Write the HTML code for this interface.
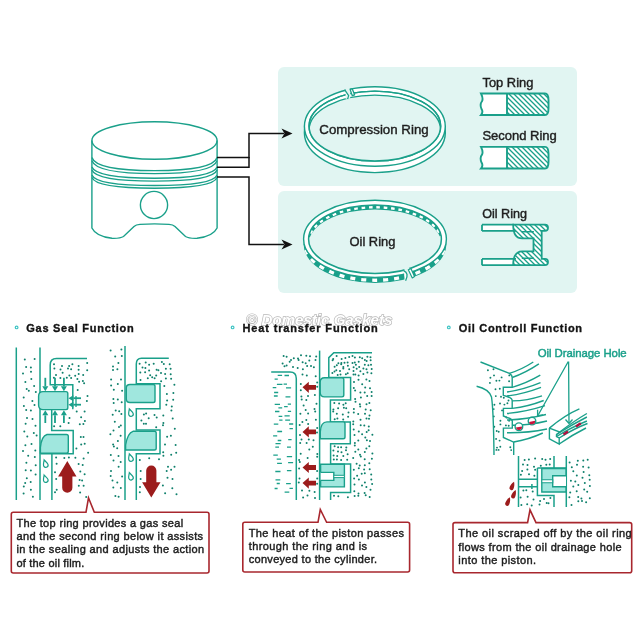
<!DOCTYPE html><html><head><meta charset="utf-8"><style>
html,body{margin:0;padding:0;background:#fff;width:640px;height:640px;overflow:hidden}
svg{display:block;will-change:transform}
text{font-family:"Liberation Sans",sans-serif}
.w{stroke:#1e1e1e;stroke-width:0.42px}
.wt{stroke:#1aa08a;stroke-width:0.45px}
.wb{stroke:#141414;stroke-width:0.35px}
</style></head><body>
<svg width="640" height="640" viewBox="0 0 640 640">
<rect x="278" y="67" width="299" height="119" rx="6" fill="#e1f5f2"/>
<rect x="278" y="191" width="299" height="102" rx="6" fill="#e1f5f2"/>
<g fill="none" stroke="#1aa08a" stroke-width="1.4">
<ellipse cx="154.5" cy="140.5" rx="62.6" ry="18.8"/>
<path d="M91.9 140.5 V228 Q96 236.5 112 238.3 Q120 238.6 123.5 236.5 L134 226.5 Q136 224.6 140 224.4 Q154.5 223.4 169 224.4 Q173 224.6 175 226.5 L185.5 236.5 Q189 238.6 197 238.3 Q213 236.5 217.1 228 V140.5"/>
<circle cx="154" cy="205" r="13.6"/>
<path d="M91.9 157.5 Q96 170.6 154.5 170.6 Q213 170.6 217.1 157.5"/>
<path d="M91.9 160.6 Q96 173.6 154.5 173.6 Q213 173.6 217.1 160.6"/>
<path d="M91.9 167 Q96 178.2 154.5 178.2 Q213 178.2 217.1 167"/>
<path d="M91.9 170 Q96 181.1 154.5 181.1 Q213 181.1 217.1 170"/>
<path d="M91.9 175 Q96 185.5 154.5 185.5 Q213 185.5 217.1 175"/>
<path d="M91.9 177.5 Q96 188.2 154.5 188.2 Q213 188.2 217.1 177.5"/>
</g>
<g fill="none" stroke="#111" stroke-width="1.5">
<path d="M217 157.6 H249 V133.6 H284"/>
<path d="M217 167.2 H249 V157"/>
<path d="M217 177 H249 V244.5 H284"/>
</g>
<path d="M292.5 133.6 L281.5 128.6 L284.5 133.6 L281.5 138.6 Z" fill="#111"/>
<path d="M292.5 244.5 L281.5 239.5 L284.5 244.5 L281.5 249.5 Z" fill="#111"/>
<defs><clipPath id="cCi"><ellipse cx="374.85" cy="126.05" rx="65.8" ry="34.95"/></clipPath></defs>
<g stroke="#1aa08a" stroke-width="1.45">
<ellipse cx="374.85" cy="132.85" rx="70.45" ry="39.75" fill="#fff"/>
<ellipse cx="374.85" cy="126.45" rx="70.45" ry="39.75" fill="#fff"/>
<ellipse cx="374.85" cy="126.05" rx="65.8" ry="34.95" fill="#fff"/>
<ellipse cx="374.85" cy="130.05" rx="65.8" ry="34.95" fill="#e1f5f2" clip-path="url(#cCi)"/>
<ellipse cx="374.85" cy="126.05" rx="65.8" ry="34.95" fill="none"/>
</g>
<path d="M345.6 85 L350.2 85 L350.2 98.8 L345.6 98.8 Z" fill="#e1f5f2"/>
<g fill="#fff" stroke="#1aa08a" stroke-width="1.3" stroke-linejoin="round">
<path d="M344.6 89.6 L348.6 95.6 L347.6 99.2"/>
<path d="M350.1 89.2 L352.3 88.9 L354.6 94.8 L352.2 95.6 Z"/>
</g>
<text x="319.3" y="134" font-size="13.3" class="w" fill="#1e1e1e">Compression Ring</text>
<defs>
<pattern id="hat" patternUnits="userSpaceOnUse" width="5" height="5">
<rect width="5" height="5" fill="#fff"/>
<path d="M-1 -1 L6 6 M-1 4 L1 6 M4 -1 L6 1" stroke="#1aa08a" stroke-width="1.3"/>
</pattern>
<clipPath id="cEi"><ellipse cx="375" cy="238.4" rx="66.2" ry="34.4"/></clipPath>
<clipPath id="cTop"><rect x="290" y="190" width="170" height="36"/></clipPath>
<clipPath id="cBot"><rect x="290" y="250" width="170" height="60"/></clipPath>
</defs>
<path d="M481 93.5 H507 V115 H481 Q483.5 112 481.5 109 Q479.5 104 482 101 Q483.5 98 481 93.5Z" fill="#fff"/>
<path d="M481 146.9 H507 V168.5 H481 Q483.5 165.5 481.5 162.5 Q479.5 157.5 482 154.5 Q483.5 151.5 481 146.9Z" fill="#fff"/>
<path d="M507 93.5 H545 Q548.5 93.5 548.5 100.25 V108.25 Q548.5 115 545 115 H507 Z" fill="url(#hat)"/>
<path d="M481 93.5 H545 Q548.5 93.5 548.5 100.25 V108.25 Q548.5 115 545 115 H481 Q483.5 112 481.5 109 Q479.5 104.25 482 101.25 Q483.5 98.5 481 93.5 Z" fill="none" stroke="#1aa08a" stroke-width="1.9"/>
<path d="M481.5 94.5 H507 V114 H481.5" fill="#fff" opacity="0"/>
<path d="M507 93.5 V115" stroke="#1aa08a" stroke-width="1.9"/>
<path d="M507 146.9 H545 Q548.5 146.9 548.5 153.7 V161.7 Q548.5 168.5 545 168.5 H507 Z" fill="url(#hat)"/>
<path d="M481 146.9 H545 Q548.5 146.9 548.5 153.7 V161.7 Q548.5 168.5 545 168.5 H481 Q483.5 165.5 481.5 162.5 Q479.5 157.7 482 154.7 Q483.5 151.9 481 146.9 Z" fill="none" stroke="#1aa08a" stroke-width="1.9"/>
<path d="M481.5 147.9 H507 V167.5 H481.5" fill="#fff" opacity="0"/>
<path d="M507 146.9 V168.5" stroke="#1aa08a" stroke-width="1.9"/>
<text x="482.5" y="87.2" font-size="12.9" class="w" fill="#1e1e1e">Top Ring</text>
<text x="482.4" y="140.4" font-size="13" class="w" fill="#1e1e1e">Second Ring</text>
<rect x="482" y="224.7" width="32" height="6.3" fill="#fff"/>
<rect x="482" y="258.9" width="32" height="6.3" fill="#fff"/>
<path d="M513.2 224.7 H545 Q548 224.7 548 227.8 Q548 230.9 545 230.9 H541.7 V258.9 H545 Q548 258.9 548 262 Q548 265.2 545 265.2 H513.2 C513.2 256 516 251.3 522.2 251.3 H533.5 V238.4 H522.2 C516 238.4 513.2 234 513.2 224.7 Z" fill="url(#hat)" stroke="#1aa08a" stroke-width="1.8"/>
<path d="M482 224.7 H514 M482 230.9 H516 M482 258.9 H516 M482 265.2 H514 M482 224.7 V230.9 M482 258.9 V265.2" stroke="#1aa08a" stroke-width="1.8" fill="none"/>
<path d="M521.8 231.8 H533.9 M521.8 258.2 H533.9" stroke="#1aa08a" stroke-width="1.5" fill="none"/>
<text x="482.2" y="217.7" font-size="12.6" class="w" fill="#1e1e1e">Oil Ring</text>
<defs><clipPath id="cEo7"><ellipse cx="375" cy="244.4" rx="71.4" ry="38.6"/></clipPath>
<clipPath id="cEi2"><ellipse cx="375" cy="239.25" rx="66.4" ry="34.25"/></clipPath></defs>
<ellipse cx="375" cy="244.4" rx="71.4" ry="38.6" fill="#1aa08a"/>
<ellipse cx="375" cy="241.65" rx="71.4" ry="38.6" fill="none" stroke="#fff" stroke-width="3.3" stroke-dasharray="5 6" stroke-dashoffset="2" clip-path="url(#cEo7)"/>
<ellipse cx="375" cy="238.9" rx="71.4" ry="38.6" fill="#fff" stroke="#1aa08a" stroke-width="1.4"/>
<ellipse cx="375" cy="239.25" rx="66.4" ry="34.25" fill="#1aa08a"/>
<ellipse cx="375" cy="241.5" rx="66.4" ry="34.25" fill="none" stroke="#fff" stroke-width="2.4" stroke-dasharray="3.6 3.8" clip-path="url(#cEi2)"/>
<ellipse cx="375" cy="243.75" rx="66.4" ry="34.25" fill="#e1f5f2" clip-path="url(#cEi2)"/>
<ellipse cx="375" cy="239.25" rx="66.4" ry="34.25" fill="none" stroke="#1aa08a" stroke-width="1.5"/>
<path d="M404.4 266 L408.3 266 L413.4 277.8 L413.4 290 L404.4 290 Z" fill="#e1f5f2"/>
<path d="M403.6 270.6 Q409.4 273.2 405.6 280.8" fill="#fff" stroke="#1aa08a" stroke-width="1.3"/>
<path d="M408.3 269.7 L410.9 268.6 L414.5 276.4 L412.3 277.9 Z" fill="#fff" stroke="#1aa08a" stroke-width="1.2" stroke-linejoin="round"/>
<text x="349.5" y="246" font-size="12.9" class="w" fill="#1e1e1e">Oil Ring</text>
<text x="246.3" y="324.6" font-size="14.2" font-weight="bold" font-style="italic" fill="#fff" stroke="#b8b8b8" stroke-width="1.3" paint-order="stroke" textLength="146" lengthAdjust="spacingAndGlyphs">© Domestic Gaskets</text>
<circle cx="16.6" cy="327.4" r="1.35" fill="#fff" stroke="#40c4c4" stroke-width="1.2"/>
<text x="26.3" y="331.6" font-size="11" font-weight="bold" class="wb" fill="#141414" textLength="107.5" lengthAdjust="spacing">Gas Seal Function</text>
<circle cx="232.6" cy="327.4" r="1.35" fill="#fff" stroke="#40c4c4" stroke-width="1.2"/>
<text x="242.5" y="331.8" font-size="11" font-weight="bold" class="wb" fill="#141414" textLength="135.3" lengthAdjust="spacing">Heat transfer Function</text>
<circle cx="448.8" cy="327.4" r="1.35" fill="#fff" stroke="#40c4c4" stroke-width="1.2"/>
<text x="458.8" y="331.8" font-size="11" font-weight="bold" class="wb" fill="#141414" textLength="123.3" lengthAdjust="spacing">Oil Controll Function</text>
<path d="M13.3 512.2 H86 L88.5 497.8 L94.3 512.2 H207 Q209 512.2 209 514.2 V571 Q209 573 207 573 H13.3 Q11.3 573 11.3 571 V514.2 Q11.3 512.2 13.3 512.2 Z" fill="#fff" stroke="#a8272e" stroke-width="1.6"/>
<path d="M244.8 522.3 H318 L320.3 509.5 L326.6 522.3 H407.6 Q409.6 522.3 409.6 524.3 V570 Q409.6 572 407.6 572 H244.8 Q242.8 572 242.8 570 V524.3 Q242.8 522.3 244.8 522.3 Z" fill="#fff" stroke="#a8272e" stroke-width="1.6"/>
<path d="M455 522.6 H527.6 L530 509.8 L536 522.6 H629.7 Q631.7 522.6 631.7 524.6 V570.8 Q631.7 572.8 629.7 572.8 H455 Q453 572.8 453 570.8 V524.6 Q453 522.6 455 522.6 Z" fill="#fff" stroke="#a8272e" stroke-width="1.6"/>
<text x="16.4" y="526.8" font-size="11" class="w" fill="#1a1a1a" textLength="166.7" lengthAdjust="spacing">The top ring provides a gas seal</text><text x="16.4" y="540.1" font-size="11" class="w" fill="#1a1a1a" textLength="186.7" lengthAdjust="spacing">and the second ring below it assists</text><text x="16.4" y="553.4" font-size="11" class="w" fill="#1a1a1a" textLength="187.7" lengthAdjust="spacing">in the sealing and adjusts the action</text><text x="16.4" y="566.7" font-size="11" class="w" fill="#1a1a1a" textLength="67.9" lengthAdjust="spacing">of the oil film.</text>
<text x="248.7" y="536.9" font-size="11" class="w" fill="#1a1a1a" textLength="155.2" lengthAdjust="spacing">The heat of the piston passes</text><text x="248.7" y="550.1" font-size="11" class="w" fill="#1a1a1a" textLength="118.4" lengthAdjust="spacing">through the ring and is</text><text x="248.7" y="563.3" font-size="11" class="w" fill="#1a1a1a" textLength="128.4" lengthAdjust="spacing">conveyed to the cylinder.</text>
<text x="458.3" y="537.2" font-size="11" class="w" fill="#1a1a1a" textLength="173.4" lengthAdjust="spacing">The oil scraped off by the oil ring</text><text x="458.3" y="550.9" font-size="11" class="w" fill="#1a1a1a" textLength="163.3" lengthAdjust="spacing">flows from the oil drainage hole</text><text x="458.3" y="564.2" font-size="11" class="w" fill="#1a1a1a" textLength="77.8" lengthAdjust="spacing">into the piston.</text>
<g fill="none" stroke="#1aa08a" stroke-width="1.5">
<path d="M16.3 347.5 V500"/>
<path d="M40 347.5 V500"/>
<path d="M87 358.5 H56.5 Q50.2 358.5 50.2 365 V384.8 H72.8 V409.2"/>
<path d="M51.7 409.2 V430.4 H73.2 V453.7 H40.4"/>
<path d="M51.9 453.7 V500"/>
</g>
<g fill="#0f806c"><circle cx="24.8" cy="359.4" r="1.0"/><circle cx="34.6" cy="359.0" r="1.0"/><circle cx="26.1" cy="366.9" r="1.0"/><circle cx="30.9" cy="367.6" r="1.0"/><circle cx="23.0" cy="373.6" r="1.0"/><circle cx="31.0" cy="371.8" r="1.0"/><circle cx="25.4" cy="381.9" r="1.0"/><circle cx="31.3" cy="378.9" r="1.0"/><circle cx="26.7" cy="388.9" r="1.0"/><circle cx="34.1" cy="386.1" r="1.0"/><circle cx="28.8" cy="390.7" r="1.0"/><circle cx="35.8" cy="391.9" r="1.0"/><circle cx="23.7" cy="397.4" r="1.0"/><circle cx="32.4" cy="401.0" r="1.0"/><circle cx="23.9" cy="406.1" r="1.0"/><circle cx="34.5" cy="405.1" r="1.0"/><circle cx="26.2" cy="409.9" r="1.0"/><circle cx="30.9" cy="410.6" r="1.0"/><circle cx="27.0" cy="418.1" r="1.0"/><circle cx="32.5" cy="418.9" r="1.0"/><circle cx="25.6" cy="423.8" r="1.0"/><circle cx="35.5" cy="425.8" r="1.0"/><circle cx="24.3" cy="431.6" r="1.0"/><circle cx="33.8" cy="433.1" r="1.0"/><circle cx="27.3" cy="436.5" r="1.0"/><circle cx="36.6" cy="435.6" r="1.0"/><circle cx="25.4" cy="445.2" r="1.0"/><circle cx="31.5" cy="443.9" r="1.0"/><circle cx="23.0" cy="451.1" r="1.0"/><circle cx="35.3" cy="450.6" r="1.0"/><circle cx="28.2" cy="455.7" r="1.0"/><circle cx="34.8" cy="457.1" r="1.0"/><circle cx="26.4" cy="462.8" r="1.0"/><circle cx="35.7" cy="465.3" r="1.0"/><circle cx="25.7" cy="470.2" r="1.0"/><circle cx="30.9" cy="470.4" r="1.0"/><circle cx="26.8" cy="478.2" r="1.0"/><circle cx="35.6" cy="474.6" r="1.0"/><circle cx="25.2" cy="482.9" r="1.0"/><circle cx="30.7" cy="481.9" r="1.0"/><circle cx="23.8" cy="486.5" r="1.0"/><circle cx="30.9" cy="489.8" r="1.0"/><circle cx="23.6" cy="493.5" r="1.0"/><circle cx="32.9" cy="496.7" r="1.0"/></g>
<g fill="#0f806c"><circle cx="54.0" cy="364.3" r="1.0"/><circle cx="62.0" cy="366.0" r="1.0"/><circle cx="69.1" cy="366.0" r="1.0"/><circle cx="72.4" cy="364.2" r="1.0"/><circle cx="78.6" cy="366.0" r="1.0"/><circle cx="87.2" cy="363.1" r="1.0"/><circle cx="54.4" cy="368.4" r="1.0"/><circle cx="60.5" cy="369.4" r="1.0"/><circle cx="68.0" cy="368.6" r="1.0"/><circle cx="71.1" cy="369.2" r="1.0"/><circle cx="78.6" cy="369.8" r="1.0"/><circle cx="87.2" cy="370.3" r="1.0"/><circle cx="56.0" cy="375.0" r="1.0"/><circle cx="62.6" cy="372.7" r="1.0"/><circle cx="69.4" cy="375.6" r="1.0"/><circle cx="75.2" cy="375.7" r="1.0"/><circle cx="78.7" cy="374.1" r="1.0"/><circle cx="83.2" cy="375.0" r="1.0"/><circle cx="53.9" cy="377.8" r="1.0"/><circle cx="60.4" cy="378.1" r="1.0"/><circle cx="66.8" cy="377.7" r="1.0"/><circle cx="71.1" cy="378.1" r="1.0"/><circle cx="77.4" cy="379.0" r="1.0"/><circle cx="82.9" cy="381.0" r="1.0"/></g>
<g fill="#0f806c"><circle cx="79.1" cy="381.8" r="1.0"/><circle cx="84.1" cy="383.2" r="1.0"/><circle cx="77.7" cy="390.1" r="1.0"/><circle cx="87.5" cy="396.0" r="1.0"/><circle cx="86.9" cy="401.0" r="1.0"/><circle cx="76.7" cy="411.5" r="1.0"/><circle cx="84.6" cy="411.6" r="1.0"/><circle cx="81.1" cy="417.3" r="1.0"/><circle cx="84.9" cy="421.0" r="1.0"/><circle cx="79.8" cy="424.2" r="1.0"/><circle cx="83.4" cy="424.1" r="1.0"/><circle cx="80.8" cy="437.0" r="1.0"/><circle cx="83.5" cy="437.1" r="1.0"/><circle cx="81.2" cy="444.4" r="1.0"/><circle cx="84.7" cy="443.7" r="1.0"/><circle cx="76.4" cy="448.5" r="1.0"/><circle cx="88.1" cy="452.8" r="1.0"/></g>
<g fill="#0f806c"><circle cx="69.5" cy="417.9" r="1.0"/><circle cx="54.1" cy="426.3" r="1.0"/><circle cx="60.3" cy="426.3" r="1.0"/><circle cx="68.6" cy="423.0" r="1.0"/></g>
<g fill="#0f806c"><circle cx="56.1" cy="457.4" r="1.0"/><circle cx="64.3" cy="458.0" r="1.0"/><circle cx="68.9" cy="457.6" r="1.0"/><circle cx="75.4" cy="457.8" r="1.0"/><circle cx="83.6" cy="458.4" r="1.0"/><circle cx="56.6" cy="463.8" r="1.0"/><circle cx="78.6" cy="464.1" r="1.0"/><circle cx="82.7" cy="465.1" r="1.0"/><circle cx="55.0" cy="472.2" r="1.0"/><circle cx="80.3" cy="471.4" r="1.0"/><circle cx="84.6" cy="474.2" r="1.0"/><circle cx="56.2" cy="479.1" r="1.0"/><circle cx="79.6" cy="480.1" r="1.0"/><circle cx="82.1" cy="480.4" r="1.0"/><circle cx="56.7" cy="489.8" r="1.0"/><circle cx="78.8" cy="485.7" r="1.0"/><circle cx="83.6" cy="485.8" r="1.0"/><circle cx="55.0" cy="492.3" r="1.0"/><circle cx="80.1" cy="492.6" r="1.0"/><circle cx="86.2" cy="496.9" r="1.0"/></g>
<path d="M43 391.6 H66 Q67.8 391.6 67.8 393.4 V407.8 Q67.8 409.6 66 409.6 H43 Q38.6 409.6 38.6 405 V396.2 Q38.6 391.6 43 391.6 Z" fill="#a0e7de" stroke="#1aa08a" stroke-width="1.4"/>
<path d="M47 434.5 H66.5 Q68.3 434.5 68.3 436.3 V451.3 Q68.3 453.1 66.5 453.1 H40.4 V447.5 Q41.5 436 47 434.5 Z" fill="#a0e7de" stroke="#1aa08a" stroke-width="1.4"/>
<line x1="45.3" y1="377.8" x2="45.30" y2="386.20" stroke="#1aa08a" stroke-width="1.8"/><path d="M45.3 391.2 L42.30 386.20 L48.30 386.20 Z" fill="#1aa08a"/>
<line x1="45.3" y1="423" x2="45.30" y2="415.30" stroke="#1aa08a" stroke-width="1.8"/><path d="M45.3 410.3 L48.30 415.30 L42.30 415.30 Z" fill="#1aa08a"/>
<line x1="55" y1="377.8" x2="55.00" y2="386.20" stroke="#1aa08a" stroke-width="1.8"/><path d="M55 391.2 L52.00 386.20 L58.00 386.20 Z" fill="#1aa08a"/>
<line x1="55" y1="423" x2="55.00" y2="415.30" stroke="#1aa08a" stroke-width="1.8"/><path d="M55 410.3 L58.00 415.30 L52.00 415.30 Z" fill="#1aa08a"/>
<line x1="63.9" y1="377.8" x2="63.90" y2="386.20" stroke="#1aa08a" stroke-width="1.8"/><path d="M63.9 391.2 L60.90 386.20 L66.90 386.20 Z" fill="#1aa08a"/>
<line x1="63.9" y1="423" x2="63.90" y2="415.30" stroke="#1aa08a" stroke-width="1.8"/><path d="M63.9 410.3 L66.90 415.30 L60.90 415.30 Z" fill="#1aa08a"/>
<line x1="81" y1="398.2" x2="73.40" y2="398.20" stroke="#1aa08a" stroke-width="1.8"/><path d="M68.4 398.2 L73.40 395.20 L73.40 401.20 Z" fill="#1aa08a"/>
<line x1="81" y1="404.7" x2="73.40" y2="404.70" stroke="#1aa08a" stroke-width="1.8"/><path d="M68.4 404.7 L73.40 401.70 L73.40 407.70 Z" fill="#1aa08a"/>
<line x1="76" y1="396" x2="76" y2="407" stroke="#1aa08a" stroke-width="1.3"/>
<path d="M0 -3.8 C0.8 -1.9 2.3 -0.3 2.3 1.5 A2.3 2.3 0 0 1 -2.3 1.5 C-2.3 -0.3 -0.8 -1.9 0 -3.8 Z" fill="none" stroke="#1aa08a" stroke-width="1.2" transform="translate(45.3,463.6) rotate(-18)"/>
<path d="M0 -3.8 C0.8 -1.9 2.3 -0.3 2.3 1.5 A2.3 2.3 0 0 1 -2.3 1.5 C-2.3 -0.3 -0.8 -1.9 0 -3.8 Z" fill="none" stroke="#1aa08a" stroke-width="1.2" transform="translate(45.3,478.7) rotate(-18)"/>
<path d="M67.3 461 L76.5 476.4 L72.39999999999999 476.4 L72.39999999999999 487.7 A5.1 5.1 0 0 1 62.199999999999996 487.7 L62.199999999999996 476.4 L58.099999999999994 476.4 Z" fill="#9c1c1c"/>
<g fill="none" stroke="#1aa08a" stroke-width="1.5">
<path d="M125 346 V500"/>
<path d="M168.8 358.2 H141.5 Q136.3 358.2 136.3 364 V383.8 H160 V408.8 H136.3 V430 H160 V453.8 H136.3 V500"/>
</g>
<g fill="#0f806c"><circle cx="110.6" cy="350.5" r="1.0"/><circle cx="121.4" cy="349.5" r="1.0"/><circle cx="115.2" cy="356.6" r="1.0"/><circle cx="121.8" cy="355.9" r="1.0"/><circle cx="113.0" cy="366.5" r="1.0"/><circle cx="118.4" cy="363.1" r="1.0"/><circle cx="113.0" cy="369.9" r="1.0"/><circle cx="117.4" cy="369.2" r="1.0"/><circle cx="111.1" cy="379.6" r="1.0"/><circle cx="121.0" cy="379.4" r="1.0"/><circle cx="111.1" cy="385.4" r="1.0"/><circle cx="117.8" cy="384.0" r="1.0"/><circle cx="113.8" cy="389.7" r="1.0"/><circle cx="122.1" cy="390.7" r="1.0"/><circle cx="113.4" cy="398.9" r="1.0"/><circle cx="117.8" cy="399.5" r="1.0"/><circle cx="113.7" cy="402.9" r="1.0"/><circle cx="121.7" cy="402.2" r="1.0"/><circle cx="115.7" cy="410.4" r="1.0"/><circle cx="119.2" cy="411.3" r="1.0"/><circle cx="112.7" cy="414.8" r="1.0"/><circle cx="121.4" cy="414.1" r="1.0"/><circle cx="114.8" cy="421.7" r="1.0"/><circle cx="120.8" cy="425.5" r="1.0"/><circle cx="113.5" cy="430.4" r="1.0"/><circle cx="119.0" cy="426.9" r="1.0"/><circle cx="110.4" cy="434.2" r="1.0"/><circle cx="120.6" cy="435.7" r="1.0"/><circle cx="113.1" cy="444.6" r="1.0"/><circle cx="117.9" cy="441.1" r="1.0"/><circle cx="113.9" cy="446.6" r="1.0"/><circle cx="117.2" cy="448.3" r="1.0"/><circle cx="110.8" cy="454.9" r="1.0"/><circle cx="118.5" cy="456.0" r="1.0"/><circle cx="113.5" cy="460.6" r="1.0"/><circle cx="120.7" cy="462.0" r="1.0"/><circle cx="111.0" cy="470.9" r="1.0"/><circle cx="118.6" cy="466.8" r="1.0"/><circle cx="110.7" cy="475.9" r="1.0"/><circle cx="122.1" cy="476.6" r="1.0"/><circle cx="112.5" cy="480.5" r="1.0"/><circle cx="117.3" cy="482.5" r="1.0"/><circle cx="113.3" cy="487.4" r="1.0"/><circle cx="120.8" cy="487.9" r="1.0"/><circle cx="115.4" cy="496.0" r="1.0"/><circle cx="118.6" cy="496.8" r="1.0"/></g>
<g fill="#0f806c"><circle cx="139.6" cy="363.8" r="1.0"/><circle cx="145.7" cy="362.5" r="1.0"/><circle cx="149.1" cy="364.8" r="1.0"/><circle cx="153.7" cy="363.8" r="1.0"/><circle cx="161.9" cy="362.1" r="1.0"/><circle cx="163.8" cy="364.1" r="1.0"/><circle cx="169.7" cy="364.2" r="1.0"/><circle cx="142.5" cy="367.5" r="1.0"/><circle cx="145.4" cy="368.0" r="1.0"/><circle cx="149.1" cy="370.5" r="1.0"/><circle cx="156.6" cy="369.8" r="1.0"/><circle cx="158.4" cy="370.3" r="1.0"/><circle cx="165.9" cy="368.7" r="1.0"/><circle cx="170.6" cy="368.7" r="1.0"/><circle cx="140.3" cy="372.5" r="1.0"/><circle cx="145.1" cy="372.2" r="1.0"/><circle cx="150.2" cy="375.2" r="1.0"/><circle cx="156.2" cy="375.6" r="1.0"/><circle cx="161.0" cy="373.1" r="1.0"/><circle cx="165.1" cy="373.9" r="1.0"/><circle cx="170.7" cy="374.2" r="1.0"/><circle cx="140.5" cy="380.0" r="1.0"/><circle cx="147.8" cy="378.2" r="1.0"/><circle cx="152.2" cy="377.3" r="1.0"/><circle cx="154.6" cy="378.3" r="1.0"/><circle cx="161.1" cy="381.2" r="1.0"/><circle cx="165.9" cy="378.6" r="1.0"/><circle cx="171.1" cy="378.7" r="1.0"/></g>
<g fill="#0f806c"><circle cx="164.3" cy="386.1" r="1.0"/><circle cx="174.4" cy="384.8" r="1.0"/><circle cx="166.9" cy="393.9" r="1.0"/><circle cx="173.4" cy="393.1" r="1.0"/><circle cx="167.1" cy="400.5" r="1.0"/><circle cx="173.2" cy="399.8" r="1.0"/><circle cx="166.3" cy="404.7" r="1.0"/><circle cx="171.8" cy="406.5" r="1.0"/><circle cx="163.3" cy="415.6" r="1.0"/><circle cx="171.4" cy="410.4" r="1.0"/><circle cx="163.4" cy="423.1" r="1.0"/><circle cx="172.7" cy="418.4" r="1.0"/><circle cx="163.0" cy="425.2" r="1.0"/><circle cx="174.8" cy="428.7" r="1.0"/><circle cx="167.1" cy="436.7" r="1.0"/><circle cx="170.9" cy="435.8" r="1.0"/><circle cx="165.0" cy="444.6" r="1.0"/><circle cx="175.6" cy="445.0" r="1.0"/><circle cx="163.2" cy="452.2" r="1.0"/><circle cx="176.2" cy="452.7" r="1.0"/><circle cx="163.4" cy="455.7" r="1.0"/><circle cx="171.2" cy="454.7" r="1.0"/><circle cx="168.0" cy="466.7" r="1.0"/><circle cx="174.5" cy="466.7" r="1.0"/><circle cx="166.7" cy="470.9" r="1.0"/><circle cx="171.1" cy="469.8" r="1.0"/><circle cx="167.5" cy="477.8" r="1.0"/><circle cx="172.5" cy="479.1" r="1.0"/><circle cx="162.9" cy="485.5" r="1.0"/><circle cx="172.3" cy="488.2" r="1.0"/><circle cx="165.1" cy="493.3" r="1.0"/><circle cx="176.5" cy="494.3" r="1.0"/></g>
<g fill="#0f806c"><circle cx="143.9" cy="414.4" r="1.0"/><circle cx="146.1" cy="413.4" r="1.0"/><circle cx="154.5" cy="415.1" r="1.0"/><circle cx="141.4" cy="420.4" r="1.0"/><circle cx="148.7" cy="418.2" r="1.0"/><circle cx="156.7" cy="417.6" r="1.0"/><circle cx="143.8" cy="423.7" r="1.0"/><circle cx="146.0" cy="423.8" r="1.0"/><circle cx="156.2" cy="427.3" r="1.0"/></g>
<g fill="#0f806c"><circle cx="139.8" cy="460.1" r="1.0"/><circle cx="149.2" cy="458.3" r="1.0"/><circle cx="159.0" cy="459.2" r="1.0"/><circle cx="140.7" cy="470.9" r="1.0"/><circle cx="140.6" cy="478.9" r="1.0"/><circle cx="140.0" cy="486.9" r="1.0"/><circle cx="139.8" cy="492.2" r="1.0"/></g>
<path d="M130 384.5 H153.2 Q155 384.5 155 386.3 V400.7 Q155 402.5 153.2 402.5 H130 Q126.3 402.5 126.3 399 V388 Q126.3 384.5 130 384.5 Z" fill="#a0e7de" stroke="#1aa08a" stroke-width="1.4"/>
<path d="M133 431.3 H154.4 Q156.2 431.3 156.2 433.1 V448.2 Q156.2 450 154.4 450 H125.6 V445 Q127.5 433 133 431.3 Z" fill="#a0e7de" stroke="#1aa08a" stroke-width="1.4"/>
<path d="M0 -3.8 C0.8 -1.9 2.3 -0.3 2.3 1.5 A2.3 2.3 0 0 1 -2.3 1.5 C-2.3 -0.3 -0.8 -1.9 0 -3.8 Z" fill="none" stroke="#1aa08a" stroke-width="1.2" transform="translate(130.5,412.6) rotate(-18)"/>
<path d="M0 -3.8 C0.8 -1.9 2.3 -0.3 2.3 1.5 A2.3 2.3 0 0 1 -2.3 1.5 C-2.3 -0.3 -0.8 -1.9 0 -3.8 Z" fill="none" stroke="#1aa08a" stroke-width="1.2" transform="translate(130.5,457.6) rotate(-18)"/>
<path d="M0 -3.8 C0.8 -1.9 2.3 -0.3 2.3 1.5 A2.3 2.3 0 0 1 -2.3 1.5 C-2.3 -0.3 -0.8 -1.9 0 -3.8 Z" fill="none" stroke="#1aa08a" stroke-width="1.2" transform="translate(130.5,476.3) rotate(-18)"/>
<path d="M151.3 497.6 L160.5 482.2 L156.4 482.2 L156.4 470.6 A5.1 5.1 0 0 0 146.20000000000002 470.6 L146.20000000000002 482.2 L142.10000000000002 482.2 Z" fill="#9c1c1c"/>
<g fill="none" stroke="#1aa08a" stroke-width="1.5">
<path d="M271.2 371.9 H290 Q296.3 371.9 296.3 378.5 V500"/>
<path d="M319.6 350.6 V500"/>
<path d="M372 352.8 H333.8 L328.8 357.6 V377.6 H350.6 V400 H330.4 V421.9 H350.3 V443.8 H330.6 V464 H350.6 V492.5 H330.6 V500"/>
</g>
<path d="M277.7 375.4 h4.4 M284.5 375.5 h4.5 M274.6 379.1 h3.2 M276.9 384.4 h5.5 M283.6 384.2 h3.4 M272.7 387.6 h3.6 M286.0 387.9 h5.1 M274.1 392.5 h4.1 M273.9 396.0 h3.8 M285.5 396.9 h4.9 M274.7 404.4 h5.3 M287.8 404.1 h3.2 M278.4 407.8 h3.8 M284.1 406.7 h3.6 M275.0 411.5 h4.4 M287.8 411.3 h3.3 M278.6 416.4 h3.7 M284.5 415.8 h5.2 M279.2 420.1 h3.3 M285.2 420.2 h4.9 M273.8 424.2 h4.5 M289.1 424.0 h4.1 M289.5 428.7 h3.4 M277.3 431.5 h4.8 M273.1 435.9 h4.1 M277.7 440.5 h3.6 M288.2 439.7 h3.4 M275.5 443.7 h5.1 M275.3 447.1 h3.7 M287.0 447.2 h3.9 M273.3 455.2 h4.5 M286.8 456.7 h5.3 M276.7 459.1 h4.2 M277.1 463.3 h4.8 M288.1 462.7 h5.0 M275.3 471.5 h5.2 M286.9 470.6 h4.5 M275.5 479.9 h4.8 M276.7 483.5 h3.1 M286.1 483.7 h4.7 M274.6 488.5 h3.0 M289.5 488.4 h3.4 M284.6 492.1 h4.7" stroke="#1aa08a" stroke-width="1.3" fill="none"/>
<g fill="#0f806c"><circle cx="283.6" cy="355.9" r="1.0"/><circle cx="286.6" cy="356.7" r="1.0"/><circle cx="293.8" cy="358.2" r="1.0"/><circle cx="298.0" cy="358.6" r="1.0"/><circle cx="301.0" cy="355.3" r="1.0"/><circle cx="306.3" cy="355.7" r="1.0"/><circle cx="310.0" cy="356.3" r="1.0"/><circle cx="316.2" cy="356.6" r="1.0"/><circle cx="282.6" cy="363.4" r="1.0"/><circle cx="289.7" cy="361.8" r="1.0"/><circle cx="291.0" cy="360.0" r="1.0"/><circle cx="298.6" cy="360.0" r="1.0"/><circle cx="302.6" cy="362.3" r="1.0"/><circle cx="305.7" cy="363.2" r="1.0"/><circle cx="309.3" cy="360.4" r="1.0"/><circle cx="315.5" cy="360.0" r="1.0"/><circle cx="284.5" cy="366.2" r="1.0"/><circle cx="286.6" cy="365.4" r="1.0"/><circle cx="293.0" cy="367.1" r="1.0"/><circle cx="297.7" cy="368.0" r="1.0"/><circle cx="302.9" cy="369.3" r="1.0"/><circle cx="307.1" cy="366.1" r="1.0"/><circle cx="311.0" cy="366.0" r="1.0"/><circle cx="313.9" cy="367.2" r="1.0"/></g>
<g fill="#0f806c"><circle cx="302.5" cy="374.5" r="1.0"/><circle cx="306.8" cy="375.4" r="1.0"/><circle cx="315.7" cy="376.3" r="1.0"/><circle cx="300.8" cy="383.9" r="1.0"/><circle cx="317.2" cy="382.6" r="1.0"/><circle cx="300.8" cy="390.3" r="1.0"/><circle cx="317.2" cy="386.8" r="1.0"/><circle cx="301.4" cy="396.4" r="1.0"/><circle cx="308.0" cy="396.0" r="1.0"/><circle cx="314.9" cy="395.1" r="1.0"/><circle cx="301.7" cy="399.6" r="1.0"/><circle cx="306.3" cy="399.9" r="1.0"/><circle cx="316.5" cy="403.8" r="1.0"/><circle cx="303.6" cy="405.6" r="1.0"/><circle cx="305.7" cy="409.9" r="1.0"/><circle cx="314.5" cy="409.0" r="1.0"/><circle cx="300.4" cy="413.8" r="1.0"/><circle cx="308.1" cy="413.6" r="1.0"/><circle cx="315.2" cy="411.5" r="1.0"/><circle cx="302.4" cy="422.0" r="1.0"/><circle cx="306.3" cy="420.0" r="1.0"/><circle cx="315.9" cy="419.8" r="1.0"/><circle cx="299.7" cy="424.9" r="1.0"/><circle cx="308.1" cy="424.1" r="1.0"/><circle cx="317.2" cy="428.1" r="1.0"/><circle cx="300.0" cy="434.9" r="1.0"/><circle cx="317.0" cy="432.5" r="1.0"/><circle cx="301.5" cy="439.6" r="1.0"/><circle cx="308.8" cy="439.5" r="1.0"/><circle cx="313.5" cy="440.2" r="1.0"/><circle cx="300.2" cy="443.0" r="1.0"/><circle cx="306.6" cy="443.1" r="1.0"/><circle cx="312.8" cy="446.7" r="1.0"/><circle cx="300.7" cy="453.8" r="1.0"/><circle cx="309.3" cy="449.5" r="1.0"/><circle cx="317.3" cy="454.0" r="1.0"/><circle cx="299.1" cy="460.1" r="1.0"/><circle cx="307.6" cy="457.9" r="1.0"/><circle cx="317.2" cy="456.8" r="1.0"/><circle cx="299.8" cy="462.1" r="1.0"/><circle cx="299.1" cy="468.5" r="1.0"/><circle cx="317.1" cy="471.1" r="1.0"/><circle cx="299.5" cy="478.6" r="1.0"/><circle cx="317.2" cy="478.4" r="1.0"/><circle cx="298.8" cy="482.4" r="1.0"/><circle cx="317.1" cy="483.8" r="1.0"/><circle cx="302.0" cy="490.5" r="1.0"/><circle cx="309.4" cy="490.8" r="1.0"/><circle cx="314.6" cy="492.0" r="1.0"/><circle cx="303.1" cy="497.6" r="1.0"/><circle cx="307.5" cy="495.5" r="1.0"/><circle cx="315.0" cy="497.9" r="1.0"/></g>
<g fill="#0f806c"><circle cx="333.2" cy="358.9" r="1.0"/><circle cx="336.6" cy="356.1" r="1.0"/><circle cx="341.6" cy="358.9" r="1.0"/><circle cx="345.4" cy="357.9" r="1.0"/><circle cx="349.2" cy="356.9" r="1.0"/><circle cx="352.5" cy="356.1" r="1.0"/><circle cx="354.9" cy="357.4" r="1.0"/><circle cx="359.8" cy="357.2" r="1.0"/><circle cx="362.2" cy="358.2" r="1.0"/><circle cx="367.4" cy="356.7" r="1.0"/><circle cx="370.5" cy="357.2" r="1.0"/><circle cx="332.6" cy="360.2" r="1.0"/><circle cx="338.4" cy="363.2" r="1.0"/><circle cx="341.4" cy="362.9" r="1.0"/><circle cx="344.5" cy="362.7" r="1.0"/><circle cx="347.6" cy="362.5" r="1.0"/><circle cx="352.5" cy="363.0" r="1.0"/><circle cx="354.8" cy="362.6" r="1.0"/><circle cx="358.7" cy="361.8" r="1.0"/><circle cx="364.9" cy="360.0" r="1.0"/><circle cx="366.6" cy="361.0" r="1.0"/><circle cx="370.6" cy="360.2" r="1.0"/><circle cx="334.6" cy="366.8" r="1.0"/><circle cx="336.8" cy="365.3" r="1.0"/><circle cx="341.2" cy="364.3" r="1.0"/><circle cx="343.3" cy="367.1" r="1.0"/><circle cx="347.9" cy="365.7" r="1.0"/><circle cx="353.6" cy="367.3" r="1.0"/><circle cx="355.9" cy="364.8" r="1.0"/><circle cx="359.2" cy="367.1" r="1.0"/><circle cx="364.8" cy="364.8" r="1.0"/><circle cx="368.4" cy="365.3" r="1.0"/><circle cx="371.0" cy="364.7" r="1.0"/><circle cx="334.5" cy="371.5" r="1.0"/><circle cx="336.3" cy="370.3" r="1.0"/><circle cx="340.0" cy="371.1" r="1.0"/><circle cx="343.3" cy="368.6" r="1.0"/><circle cx="349.2" cy="369.2" r="1.0"/><circle cx="353.5" cy="371.1" r="1.0"/><circle cx="356.7" cy="368.7" r="1.0"/><circle cx="360.4" cy="371.3" r="1.0"/><circle cx="363.4" cy="368.5" r="1.0"/><circle cx="366.5" cy="369.2" r="1.0"/><circle cx="371.7" cy="368.9" r="1.0"/><circle cx="332.4" cy="373.1" r="1.0"/><circle cx="337.7" cy="374.9" r="1.0"/><circle cx="340.5" cy="374.5" r="1.0"/><circle cx="345.9" cy="374.2" r="1.0"/><circle cx="347.7" cy="373.3" r="1.0"/><circle cx="353.5" cy="374.5" r="1.0"/><circle cx="355.3" cy="374.4" r="1.0"/><circle cx="358.6" cy="375.5" r="1.0"/><circle cx="363.4" cy="374.0" r="1.0"/><circle cx="367.4" cy="372.5" r="1.0"/><circle cx="371.4" cy="373.2" r="1.0"/></g>
<g fill="#0f806c"><circle cx="354.0" cy="382.1" r="1.0"/><circle cx="358.5" cy="379.8" r="1.0"/><circle cx="366.4" cy="379.6" r="1.0"/><circle cx="369.5" cy="381.0" r="1.0"/><circle cx="353.8" cy="388.1" r="1.0"/><circle cx="362.2" cy="384.2" r="1.0"/><circle cx="365.2" cy="387.4" r="1.0"/><circle cx="370.0" cy="388.2" r="1.0"/><circle cx="355.1" cy="390.4" r="1.0"/><circle cx="360.4" cy="392.5" r="1.0"/><circle cx="364.7" cy="392.6" r="1.0"/><circle cx="371.6" cy="391.9" r="1.0"/><circle cx="355.1" cy="398.9" r="1.0"/><circle cx="360.9" cy="397.5" r="1.0"/><circle cx="367.2" cy="396.0" r="1.0"/><circle cx="371.6" cy="395.9" r="1.0"/><circle cx="355.5" cy="401.8" r="1.0"/><circle cx="359.9" cy="404.2" r="1.0"/><circle cx="366.5" cy="404.2" r="1.0"/><circle cx="369.4" cy="402.9" r="1.0"/><circle cx="353.9" cy="408.9" r="1.0"/><circle cx="360.2" cy="406.4" r="1.0"/><circle cx="365.7" cy="409.5" r="1.0"/><circle cx="370.7" cy="410.2" r="1.0"/><circle cx="353.8" cy="412.5" r="1.0"/><circle cx="358.2" cy="414.0" r="1.0"/><circle cx="365.0" cy="413.8" r="1.0"/><circle cx="369.5" cy="415.4" r="1.0"/><circle cx="353.3" cy="421.4" r="1.0"/><circle cx="360.5" cy="419.8" r="1.0"/><circle cx="366.5" cy="418.4" r="1.0"/><circle cx="369.0" cy="418.8" r="1.0"/><circle cx="353.2" cy="424.3" r="1.0"/><circle cx="360.7" cy="425.2" r="1.0"/><circle cx="364.3" cy="425.5" r="1.0"/><circle cx="368.8" cy="426.6" r="1.0"/><circle cx="353.7" cy="429.6" r="1.0"/><circle cx="358.8" cy="431.5" r="1.0"/><circle cx="366.7" cy="432.0" r="1.0"/><circle cx="368.6" cy="430.3" r="1.0"/><circle cx="354.5" cy="435.0" r="1.0"/><circle cx="362.1" cy="434.2" r="1.0"/><circle cx="365.3" cy="437.4" r="1.0"/><circle cx="372.4" cy="434.7" r="1.0"/><circle cx="354.9" cy="442.9" r="1.0"/><circle cx="358.3" cy="440.6" r="1.0"/><circle cx="366.9" cy="440.2" r="1.0"/><circle cx="370.0" cy="440.9" r="1.0"/><circle cx="354.8" cy="445.4" r="1.0"/><circle cx="358.3" cy="449.5" r="1.0"/><circle cx="366.4" cy="448.4" r="1.0"/><circle cx="369.3" cy="446.2" r="1.0"/><circle cx="355.3" cy="451.7" r="1.0"/><circle cx="360.0" cy="454.8" r="1.0"/><circle cx="364.8" cy="452.1" r="1.0"/><circle cx="372.4" cy="453.4" r="1.0"/><circle cx="353.2" cy="458.0" r="1.0"/><circle cx="360.8" cy="456.5" r="1.0"/><circle cx="364.7" cy="459.3" r="1.0"/><circle cx="371.9" cy="458.8" r="1.0"/><circle cx="356.6" cy="463.8" r="1.0"/><circle cx="359.7" cy="465.5" r="1.0"/><circle cx="364.8" cy="465.2" r="1.0"/><circle cx="369.3" cy="463.3" r="1.0"/><circle cx="353.8" cy="469.7" r="1.0"/><circle cx="358.8" cy="468.2" r="1.0"/><circle cx="364.1" cy="469.4" r="1.0"/><circle cx="369.7" cy="469.3" r="1.0"/><circle cx="357.1" cy="475.8" r="1.0"/><circle cx="361.7" cy="473.7" r="1.0"/><circle cx="364.8" cy="473.2" r="1.0"/><circle cx="371.2" cy="474.4" r="1.0"/><circle cx="354.1" cy="478.5" r="1.0"/><circle cx="358.9" cy="479.5" r="1.0"/><circle cx="364.9" cy="482.5" r="1.0"/><circle cx="371.3" cy="479.6" r="1.0"/><circle cx="354.5" cy="484.6" r="1.0"/><circle cx="362.0" cy="485.5" r="1.0"/><circle cx="366.4" cy="487.1" r="1.0"/><circle cx="372.1" cy="484.0" r="1.0"/><circle cx="354.3" cy="491.2" r="1.0"/><circle cx="358.5" cy="493.4" r="1.0"/><circle cx="364.6" cy="492.9" r="1.0"/><circle cx="370.5" cy="489.7" r="1.0"/><circle cx="354.6" cy="496.1" r="1.0"/><circle cx="358.3" cy="495.7" r="1.0"/><circle cx="365.7" cy="495.2" r="1.0"/><circle cx="369.7" cy="496.9" r="1.0"/></g>
<g fill="#0f806c"><circle cx="334.3" cy="402.9" r="1.0"/><circle cx="339.1" cy="403.4" r="1.0"/><circle cx="343.4" cy="404.8" r="1.0"/><circle cx="345.7" cy="403.2" r="1.0"/><circle cx="333.4" cy="409.5" r="1.0"/><circle cx="338.1" cy="408.3" r="1.0"/><circle cx="343.9" cy="407.8" r="1.0"/><circle cx="346.2" cy="408.2" r="1.0"/><circle cx="333.2" cy="411.6" r="1.0"/><circle cx="336.8" cy="413.7" r="1.0"/><circle cx="342.8" cy="414.4" r="1.0"/><circle cx="348.5" cy="412.5" r="1.0"/><circle cx="334.7" cy="419.3" r="1.0"/><circle cx="337.4" cy="418.4" r="1.0"/><circle cx="343.2" cy="419.4" r="1.0"/><circle cx="348.1" cy="416.8" r="1.0"/></g>
<g fill="#0f806c"><circle cx="334.6" cy="446.2" r="1.0"/><circle cx="338.1" cy="447.2" r="1.0"/><circle cx="341.1" cy="447.2" r="1.0"/><circle cx="346.3" cy="447.6" r="1.0"/><circle cx="333.4" cy="450.6" r="1.0"/><circle cx="338.0" cy="451.6" r="1.0"/><circle cx="341.5" cy="452.2" r="1.0"/><circle cx="346.0" cy="450.3" r="1.0"/><circle cx="333.6" cy="455.6" r="1.0"/><circle cx="337.2" cy="456.1" r="1.0"/><circle cx="343.3" cy="456.0" r="1.0"/><circle cx="347.6" cy="454.2" r="1.0"/><circle cx="333.8" cy="459.5" r="1.0"/><circle cx="336.9" cy="459.6" r="1.0"/><circle cx="341.1" cy="459.9" r="1.0"/><circle cx="347.2" cy="459.8" r="1.0"/></g>
<g fill="#0f806c"><circle cx="334.0" cy="495.8" r="1.0"/><circle cx="338.3" cy="496.3" r="1.0"/><circle cx="347.9" cy="497.3" r="1.0"/></g>
<path d="M324.5 377.8 H342 Q343.8 377.8 343.8 379.6 V395.1 Q343.8 396.9 342 396.9 H324.5 Q320.2 396.9 320.2 392.6 V382.1 Q320.2 377.8 324.5 377.8 Z" fill="#a0e7de" stroke="#1aa08a" stroke-width="1.4"/>
<path d="M327 421.9 H343.2 Q345 421.9 345 423.7 V437 Q345 438.8 343.2 438.8 H320.3 V432 Q320.8 421.9 327 421.9 Z" fill="#a0e7de" stroke="#1aa08a" stroke-width="1.4"/>
<path d="M320.6 464.2 H344.4 V486.9 H320.6 Z" fill="#a0e7de" stroke="#1aa08a" stroke-width="1.4"/>
<path d="M320.6 472.4 H333.8 V480.4 H320.6" fill="#fff" stroke="#1aa08a" stroke-width="1.4"/>
<path d="M333.8 475.3 H344.4 V477.6 H333.8 Z" fill="#fff" stroke="#1aa08a" stroke-width="1"/>
<path d="M302.5 387.3 L308.8 381.7 L308.8 384.90000000000003 L316 384.90000000000003 L316 389.7 L308.8 389.7 L308.8 392.90000000000003 Z" fill="#9c1c1c"/>
<path d="M302.5 431.9 L308.8 426.29999999999995 L308.8 429.5 L316 429.5 L316 434.29999999999995 L308.8 434.29999999999995 L308.8 437.5 Z" fill="#9c1c1c"/>
<path d="M302.5 467.5 L308.8 461.9 L308.8 465.1 L316 465.1 L316 469.9 L308.8 469.9 L308.8 473.1 Z" fill="#9c1c1c"/>
<path d="M302.5 483.1 L308.8 477.5 L308.8 480.70000000000005 L316 480.70000000000005 L316 485.5 L308.8 485.5 L308.8 488.70000000000005 Z" fill="#9c1c1c"/>
<text x="537.7" y="357.4" font-size="11.4" class="wt" fill="#1aa08a" textLength="89" lengthAdjust="spacing">Oil Drainage Hole</text>
<g fill="#0f806c"><circle cx="487.9" cy="370.2" r="0.95"/><circle cx="493.5" cy="369.2" r="0.95"/><circle cx="490.4" cy="377.8" r="0.95"/><circle cx="494.0" cy="375.4" r="0.95"/><circle cx="501.6" cy="377.4" r="0.95"/><circle cx="509.3" cy="375.4" r="0.95"/><circle cx="489.9" cy="382.9" r="0.95"/><circle cx="496.4" cy="380.8" r="0.95"/><circle cx="499.4" cy="380.6" r="0.95"/><circle cx="509.1" cy="381.3" r="0.95"/></g>
<g fill="#0f806c"><circle cx="495.5" cy="389.3" r="0.95"/><circle cx="499.8" cy="388.8" r="0.95"/><circle cx="495.8" cy="396.1" r="0.95"/><circle cx="501.0" cy="396.8" r="0.95"/><circle cx="494.4" cy="404.7" r="0.95"/><circle cx="500.0" cy="403.5" r="0.95"/><circle cx="493.7" cy="409.1" r="0.95"/><circle cx="502.1" cy="410.4" r="0.95"/><circle cx="493.8" cy="416.4" r="0.95"/><circle cx="500.4" cy="420.8" r="0.95"/><circle cx="494.3" cy="426.8" r="0.95"/><circle cx="500.4" cy="424.4" r="0.95"/><circle cx="496.7" cy="431.0" r="0.95"/><circle cx="498.7" cy="431.8" r="0.95"/><circle cx="496.1" cy="438.9" r="0.95"/><circle cx="499.6" cy="440.6" r="0.95"/><circle cx="497.0" cy="447.6" r="0.95"/><circle cx="500.3" cy="446.7" r="0.95"/><circle cx="496.4" cy="449.9" r="0.95"/><circle cx="498.6" cy="449.9" r="0.95"/></g>
<g fill="#0f806c"><circle cx="503.8" cy="397.8" r="0.95"/><circle cx="508.5" cy="400.5" r="0.95"/><circle cx="504.4" cy="404.6" r="0.95"/><circle cx="507.4" cy="403.3" r="0.95"/></g>
<g fill="#0f806c"><circle cx="506.5" cy="417.5" r="0.95"/><circle cx="509.1" cy="420.7" r="0.95"/><circle cx="505.9" cy="425.4" r="0.95"/><circle cx="508.7" cy="425.7" r="0.95"/></g>
<g fill="#0f806c"><circle cx="510.3" cy="447.3" r="0.95"/><circle cx="511.2" cy="450.1" r="0.95"/></g>
<path d="M509.4 373.3 Q521.3 369.8 533.3 362 M512.2 377.5 Q525.5 372.9 538.9 363.9 M512.2 387.3 Q526.2 383.4 540.3 375.2 M507 392 Q523.8 389.5 540.5 382.6 M507 396 Q524.0 393.8 541 387.3 M512.2 400.9 Q527.1 400.6 542 395.8 M512.3 408.4 Q528.0 406.6 543.7 400.5 M507 413.5 Q526.0 411.8 545 405.6 M507 420 Q526.5 419.4 546 414.5 M512.3 425.3 Q529.6 425.3 547 421 M507 432.8 Q527.0 433.1 547 429 M513.7 442 Q528.2 439.7 542.8 433" fill="none" stroke="#1aa08a" stroke-width="1.4"/>
<g fill="none" stroke="#1aa08a" stroke-width="1.4">
<path d="M480.5 362 L509.4 373.3 Q512.2 375 512.2 377.5 V387.3 H503.3 V395.3 L507 396.5 Q512.2 398 512.2 400.9 V408.4 H503.4 V416 L507 417.5 Q512.3 419 512.3 421 V428.1 H503.4 V437.5 L513.7 442.2 V455"/>
<path d="M476.6 386.2 Q489 389 491.5 397 Q493.5 410 494 455"/>
</g>
<circle cx="518.9" cy="426.7" r="3.8" fill="#fff" stroke="#1aa08a" stroke-width="1.4"/>
<path d="M515.9 427.5 A3.05 3.05 0 0 0 521.9 426.4 Z" fill="#c8143c"/>
<circle cx="532" cy="421.1" r="3.8" fill="#fff" stroke="#1aa08a" stroke-width="1.4"/>
<path d="M529 421.90000000000003 A3.05 3.05 0 0 0 535 420.8 Z" fill="#c8143c"/>
<g fill="none" stroke="#1aa08a" stroke-width="1.4">
<path d="M549.4 428.1 V438.9 L559.2 444 V438 L556.5 436.5 V434.5 L559.7 432 L549.4 428.1"/>
<path d="M549.4 428.1 Q565 415 579.4 408.9"/>
<path d="M559.7 432 Q574 421 586.9 413.5"/>
<path d="M556.5 434.5 Q572 424.5 586.9 417"/>
<path d="M556.5 436.5 Q572 427 586.9 421"/>
<path d="M559.2 438 Q574 428.5 587.5 423.5"/>
<path d="M559.2 444 Q572 435 586 428"/>
</g>
<path d="M563.5 434.6 L568 431.6" stroke="#b01040" stroke-width="2.4"/>
<path d="M576 426.6 L580.8 423.3" stroke="#b01040" stroke-width="2.4"/>
<path d="M568.3 361.5 L538.3 414.8 M568.6 361.5 L569 423" fill="none" stroke="#1aa08a" stroke-width="1.3"/>
<path d="M537.6 409.8 L537.6 415.6 L543 414.8 M565.5 419.5 L569 423.5 L572.5 419.5" fill="none" stroke="#1aa08a" stroke-width="1.3"/>
<g fill="none" stroke="#1aa08a" stroke-width="1.5">
<path d="M518.5 456 V507"/>
<path d="M554 456 V468 M537.4 468 H566.3 M537.4 468 V495.4 H554 V507"/>
<path d="M566.3 456 V507"/>
<path d="M518.5 479.2 H537.4 M518.5 486.7 H537.4 M531.9 484 V489"/>
</g>
<path d="M541.8 468.5 H566 V492 H541.8 Z" fill="#a0e7de" stroke="#1aa08a" stroke-width="1.4"/>
<path d="M566 475.7 H552.7 V486.7 H566" fill="#fff" stroke="#1aa08a" stroke-width="1.4"/>
<path d="M541.8 479.8 H552.7 V482.8 H541.8 Z" fill="#fff" stroke="#1aa08a" stroke-width="1.1"/>
<g fill="#0f806c"><circle cx="524.6" cy="460.1" r="1.0"/><circle cx="528.9" cy="459.5" r="1.0"/><circle cx="535.1" cy="458.6" r="1.0"/><circle cx="523.0" cy="464.4" r="1.0"/><circle cx="527.5" cy="465.0" r="1.0"/><circle cx="534.0" cy="466.7" r="1.0"/><circle cx="522.1" cy="471.1" r="1.0"/><circle cx="527.4" cy="469.6" r="1.0"/><circle cx="535.1" cy="469.8" r="1.0"/><circle cx="520.9" cy="474.8" r="1.0"/><circle cx="529.0" cy="474.3" r="1.0"/><circle cx="534.4" cy="475.7" r="1.0"/></g>
<g fill="#0f806c"><circle cx="523.4" cy="490.4" r="1.0"/><circle cx="526.3" cy="490.2" r="1.0"/><circle cx="532.7" cy="491.5" r="1.0"/><circle cx="520.6" cy="497.5" r="1.0"/><circle cx="527.6" cy="496.7" r="1.0"/><circle cx="533.5" cy="499.6" r="1.0"/><circle cx="521.4" cy="504.9" r="1.0"/><circle cx="527.2" cy="504.3" r="1.0"/><circle cx="531.7" cy="505.4" r="1.0"/></g>
<g fill="#0f806c"><circle cx="540.1" cy="500.9" r="1.0"/><circle cx="544.0" cy="498.9" r="1.0"/><circle cx="550.4" cy="498.1" r="1.0"/><circle cx="539.5" cy="504.4" r="1.0"/><circle cx="546.7" cy="503.1" r="1.0"/><circle cx="548.5" cy="503.2" r="1.0"/></g>
<g fill="#0f806c"><circle cx="542.2" cy="458.9" r="1.0"/><circle cx="545.5" cy="459.7" r="1.0"/><circle cx="550.2" cy="459.1" r="1.0"/><circle cx="540.8" cy="465.7" r="1.0"/><circle cx="546.3" cy="464.8" r="1.0"/><circle cx="549.7" cy="464.6" r="1.0"/></g>
<g fill="#0f806c"><circle cx="569.6" cy="462.6" r="1.0"/><circle cx="577.8" cy="460.8" r="1.0"/><circle cx="583.3" cy="460.6" r="1.0"/><circle cx="587.7" cy="459.7" r="1.0"/><circle cx="571.8" cy="467.3" r="1.0"/><circle cx="577.0" cy="464.8" r="1.0"/><circle cx="583.1" cy="466.7" r="1.0"/><circle cx="588.6" cy="467.5" r="1.0"/><circle cx="573.3" cy="471.3" r="1.0"/><circle cx="576.8" cy="475.4" r="1.0"/><circle cx="583.6" cy="472.1" r="1.0"/><circle cx="589.3" cy="475.3" r="1.0"/><circle cx="570.9" cy="480.8" r="1.0"/><circle cx="575.3" cy="481.4" r="1.0"/><circle cx="582.5" cy="477.7" r="1.0"/><circle cx="589.7" cy="479.7" r="1.0"/><circle cx="573.3" cy="486.6" r="1.0"/><circle cx="578.3" cy="485.1" r="1.0"/><circle cx="584.8" cy="482.9" r="1.0"/><circle cx="589.9" cy="486.0" r="1.0"/><circle cx="570.2" cy="492.5" r="1.0"/><circle cx="576.7" cy="491.2" r="1.0"/><circle cx="584.2" cy="489.5" r="1.0"/><circle cx="587.2" cy="491.7" r="1.0"/><circle cx="569.4" cy="497.3" r="1.0"/><circle cx="578.2" cy="497.0" r="1.0"/><circle cx="581.4" cy="498.4" r="1.0"/><circle cx="589.8" cy="498.3" r="1.0"/><circle cx="571.5" cy="504.9" r="1.0"/><circle cx="578.3" cy="501.3" r="1.0"/><circle cx="582.0" cy="501.1" r="1.0"/><circle cx="586.1" cy="502.3" r="1.0"/></g>
<path d="M0 -5 C1.3 -3 2.1 -1 2.1 1.7 A2.1 2.3 0 0 1 -2.1 1.7 C-2.1 -1 -1.3 -3 0 -5 Z" fill="#9c1c1c" transform="translate(512.2,486.3) rotate(22)"/>
<path d="M0 -5 C1.3 -3 2.1 -1 2.1 1.7 A2.1 2.3 0 0 1 -2.1 1.7 C-2.1 -1 -1.3 -3 0 -5 Z" fill="#9c1c1c" transform="translate(513.8,494.6) rotate(22)"/>
<path d="M0 -5 C1.3 -3 2.1 -1 2.1 1.7 A2.1 2.3 0 0 1 -2.1 1.7 C-2.1 -1 -1.3 -3 0 -5 Z" fill="#9c1c1c" transform="translate(508,502) rotate(22)"/></svg></body></html>
